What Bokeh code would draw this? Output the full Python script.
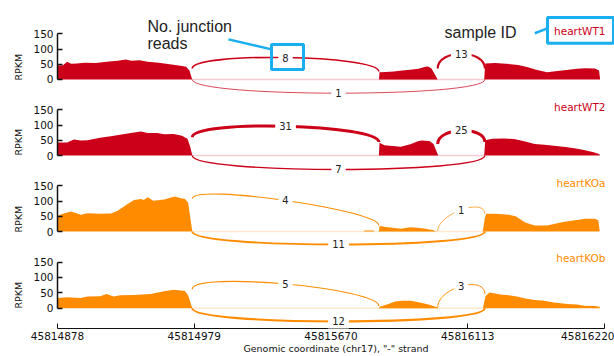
import math
from bokeh.plotting import figure
from bokeh.layouts import column
from bokeh.models import Range1d, FixedTicker, Label, BoxAnnotation, ColumnDataSource, Title
from bokeh.embed import file_html
from bokeh.resources import INLINE

FONT = "DejaVu Sans"
ANN_FONT = "Liberation Sans"
BLUE = "#18aef0"

samples = ["heartWT1", "heartWT2", "heartKOa", "heartKOb"]
sample_colors = ["#cc0018", "#cc0018", "#ff8c00", "#ff8c00"]

# x positions are in the scaled (intron-compressed) coordinate of the sashimi plot
tick_pos = [0, 1, 2, 3, 4]
tick_labels = ["45814878", "45814979", "45815670", "45816113", "45816220"]
y_ticks = [0, 50, 100, 150]

# coverage (RPKM)
wt1_x = [0.0, 0.04, 0.07, 0.10, 0.14, 0.20, 0.28, 0.36, 0.44, 0.50, 0.54, 0.60, 0.66, 0.74, 0.82, 0.90, 0.94, 0.965, 0.985,
         2.35, 2.355, 2.40, 2.46, 2.52, 2.58, 2.64, 2.69, 2.71, 2.735, 2.78,
         3.12, 3.128, 3.20, 3.28, 3.37, 3.44, 3.50, 3.58, 3.64, 3.72, 3.80, 3.86, 3.93, 3.96, 3.968]
wt1_y = [46, 47, 58, 52, 53, 55, 54, 58, 62, 66, 62, 63, 58, 55, 50, 45, 42, 30, 0,
         0, 24, 25, 26, 30, 32, 35, 42, 43, 36, 0,
         0, 53, 54, 52, 48, 40, 32, 24, 27, 31, 35, 37, 36, 30, 0]

wt2_x = [0.0, 0.07, 0.12, 0.17, 0.22, 0.31, 0.39, 0.48, 0.56, 0.61, 0.66, 0.73, 0.78, 0.85, 0.91, 0.95, 0.97, 0.986,
         2.35, 2.355, 2.39, 2.43, 2.51, 2.58, 2.63, 2.66, 2.72, 2.75, 2.784,
         3.12, 3.128, 3.18, 3.26, 3.34, 3.42, 3.49, 3.56, 3.63, 3.73, 3.80, 3.85, 3.92, 3.96, 3.968]
wt2_y = [43, 43, 53, 49, 50, 58, 63, 70, 76, 79, 74, 74, 70, 71, 65, 55, 30, 0,
         0, 42, 34, 32, 29, 37, 46, 49, 48, 38, 0,
         0, 50, 55, 56, 54, 46, 38, 35, 32, 27, 22, 18, 11, 5, 0]

koa_x = [0.0, 0.05, 0.10, 0.17, 0.22, 0.31, 0.39, 0.44, 0.51, 0.56, 0.61, 0.63, 0.66, 0.70, 0.78, 0.83, 0.86, 0.90, 0.93, 0.955, 0.986,
         2.24, 2.245, 2.31, 2.315,
         2.35, 2.355, 2.40, 2.45, 2.51, 2.58, 2.63, 2.68, 2.75, 2.77,
         3.11, 3.125, 3.136, 3.20, 3.30, 3.35, 3.42, 3.49, 3.58, 3.68, 3.73, 3.80, 3.86, 3.93, 3.955, 3.965]
koa_y = [52, 60, 66, 55, 60, 58, 59, 68, 90, 104, 107, 104, 113, 101, 105, 112, 115, 109, 108, 95, 0,
         0, 3, 3, 0,
         0, 18, 15, 12, 9, 14, 12, 10, 4, 0,
         0, 45, 58, 58, 55, 50, 30, 20, 20, 30, 34, 38, 42, 42, 36, 0]

kob_x = [0.0, 0.07, 0.17, 0.22, 0.31, 0.36, 0.41, 0.46, 0.56, 0.68, 0.78, 0.85, 0.90, 0.93, 0.955, 0.986,
         2.35, 2.355, 2.42, 2.47, 2.52, 2.58, 2.65, 2.72, 2.78, 2.785,
         3.11, 3.13, 3.16, 3.24, 3.30, 3.36, 3.42, 3.49, 3.56, 3.63, 3.73, 3.80, 3.85, 3.93, 3.963, 3.967]
kob_y = [33, 36, 33, 38, 39, 46, 38, 42, 43, 46, 55, 60, 58, 57, 42, 0,
         0, 5, 14, 22, 24, 24, 19, 11, 2, 0,
         0, 40, 51, 45, 42, 38, 32, 27, 24, 19, 14, 12, 8, 7, 5, 0]

# junctions: exon1->exon2 (above), exon2->exon3 (above), exon1->exon3 (below)
junc_x0 = [0.985, 2.78, 0.985]
junc_x1 = [2.35, 3.125, 3.125]

wt1_counts = [8, 13, 1]
wt1_arc_y0 = [36, 36, 0]
wt1_arc_y1 = [26, 36, 0]
wt1_arc_h = [55, 65, -60]

wt2_counts = [31, 25, 7]
wt2_arc_y0 = [60, 38, 0]
wt2_arc_y1 = [44, 44, 0]
wt2_arc_h = [59, 55, -61]

koa_counts = [4, 1, 11]
koa_arc_y0 = [108, 2, 0]
koa_arc_y1 = [20, 58, 0]
koa_arc_h = [51, 55, -57]

kob_counts = [5, 3, 12]
kob_arc_y0 = [62, 3, 0]
kob_arc_y1 = [7, 46, 0]
kob_arc_h = [59, 63, -57]

coverage = [(wt1_x, wt1_y), (wt2_x, wt2_y), (koa_x, koa_y), (kob_x, kob_y)]
arcs = [(wt1_counts, wt1_arc_y0, wt1_arc_y1, wt1_arc_h),
        (wt2_counts, wt2_arc_y0, wt2_arc_y1, wt2_arc_h),
        (koa_counts, koa_arc_y0, koa_arc_y1, koa_arc_h),
        (kob_counts, kob_arc_y0, kob_arc_y1, kob_arc_h)]

# layout
panel_heights = [98, 76, 76, 106]
top_borders = [8, 0, 0, 0]
y_ranges = [(-62.5, 233.5), (-62.5, 187.5), (-62.5, 187.5), (-65.8, 187.5)]
name_y = [158, 161, 161, 164]
rpkm_offset = [18, 19, 18, 20]
X_END = 4.073


def make_panel(i):
    color = sample_colors[i]
    last = i == 3
    p = figure(width=614, height=panel_heights[i],
               x_range=Range1d(0, X_END), y_range=Range1d(*y_ranges[i]),
               output_backend="svg", toolbar_location=None,
               x_axis_location="below" if last else None,
               min_border_left=57, min_border_right=0,
               min_border_top=top_borders[i], min_border_bottom=0)
    p.outline_line_color = None
    p.grid.visible = False

    ya = p.yaxis[0]
    ya.ticker = FixedTicker(ticks=y_ticks)
    ya.bounds = (0, 150)
    ya.major_tick_in = 5
    ya.major_tick_out = 0
    ya.minor_tick_in = 0
    ya.minor_tick_out = 0
    ya.axis_line_width = 1.5
    ya.major_tick_line_width = 1.5
    ya.axis_line_color = "#111111"
    ya.major_tick_line_color = "#111111"
    ya.major_label_text_font = FONT
    ya.major_label_text_font_size = "10.5px"
    ya.major_label_text_color = "#111111"
    ya.major_label_standoff = 4

    p.add_layout(Title(text="RPKM", align="left", offset=rpkm_offset[i],
                       vertical_align="bottom", standoff=14,
                       text_font=FONT, text_font_size="9.5px",
                       text_font_style="normal", text_color="#111111"), "left")

    cx, cy = coverage[i]
    counts, y0s, y1s, hs = arcs[i]

    # faint baseline across the skipped region
    p.line([junc_x0[2], junc_x1[2]], [0, 0], line_color=color, line_alpha=0.2, line_width=1.5)
    p.varea(x=cx, y1=0, y2=cy, fill_color=color)

    src = ColumnDataSource(dict(
        x0=junc_x0, x1=junc_x1, y0=y0s, y1=y1s,
        cx0=junc_x0, cx1=junc_x1,
        cy0=[a + h for a, h in zip(y0s, hs)],
        cy1=[b + h for b, h in zip(y1s, hs)],
        lw=[min(3.0, 0.6 + 0.12 * c) for c in counts],
    ))
    p.bezier(x0="x0", y0="y0", x1="x1", y1="y1", cx0="cx0", cy0="cy0",
             cx1="cx1", cy1="cy1", line_color=color, line_width="lw", source=src)

    for c, a, b, h, xa, xb in zip(counts, y0s, y1s, hs, junc_x0, junc_x1):
        xm = (xa + xb) / 2
        ym = (a + b) / 2 + 0.75 * h
        p.add_layout(Label(x=xm, y=ym, text=str(c), text_align="center",
                           text_baseline="middle", text_font=FONT,
                           text_font_size="10px", text_color="#222222",
                           background_fill_color="white",
                           padding=4))

    p.add_layout(Label(x=4.007, y=name_y[i], text=samples[i], text_align="right",
                       text_baseline="middle", text_font=FONT,
                       text_font_size="10.5px", text_color=color))

    if last:
        xa = p.xaxis[0]
        xa.ticker = FixedTicker(ticks=tick_pos)
        xa.major_label_overrides = {t: s for t, s in zip(tick_pos, tick_labels)}
        xa.bounds = (0, 4)
        xa.major_tick_in = 5
        xa.major_tick_out = 0
        xa.minor_tick_in = 0
        xa.minor_tick_out = 0
        xa.axis_line_color = "#111111"
        xa.major_tick_line_color = "#111111"
        xa.major_label_text_font = FONT
        xa.major_label_text_font_size = "10.5px"
        xa.major_label_text_color = "#111111"
        xa.major_label_standoff = 3
        xa.axis_label = 'Genomic coordinate (chr17), "-" strand'
        xa.axis_label_text_font = FONT
        xa.axis_label_text_font_size = "9.5px"
        xa.axis_label_text_font_style = "normal"
        xa.axis_label_text_color = "#111111"
        xa.axis_label_standoff = 0
    return p


panels = [make_panel(i) for i in range(4)]

# explanatory annotations on the first panel
p1 = panels[0]
p1.add_layout(Label(x=0.658, y=173, text="No. junction", text_align="left",
                    text_baseline="middle", text_font=ANN_FONT,
                    text_font_size="16px", text_color="#222222"))
p1.add_layout(Label(x=0.658, y=117, text="reads", text_align="left",
                    text_baseline="middle", text_font=ANN_FONT,
                    text_font_size="16px", text_color="#222222"))
p1.segment(x0=[1.25], y0=[132], x1=[1.565], y1=[99], line_color=BLUE, line_width=2.5)
p1.add_layout(BoxAnnotation(left=1.565, right=1.799, bottom=33, top=115,
                            fill_alpha=0, line_color=BLUE, line_alpha=1, line_width=3))
p1.add_layout(Label(x=2.83, y=153, text="sample  ID", text_align="left",
                    text_baseline="middle", text_font=ANN_FONT,
                    text_font_size="16px", text_color="#222222"))
p1.segment(x0=[3.49], y0=[152], x1=[3.583], y1=[168], line_color=BLUE, line_width=2.5)
p1.add_layout(BoxAnnotation(left=3.583, right=4.066, bottom=119, top=204,
                            fill_alpha=0, line_color=BLUE, line_alpha=1, line_width=3))

layout = column(*panels)
open("out.html", "w").write(file_html(layout, INLINE))
